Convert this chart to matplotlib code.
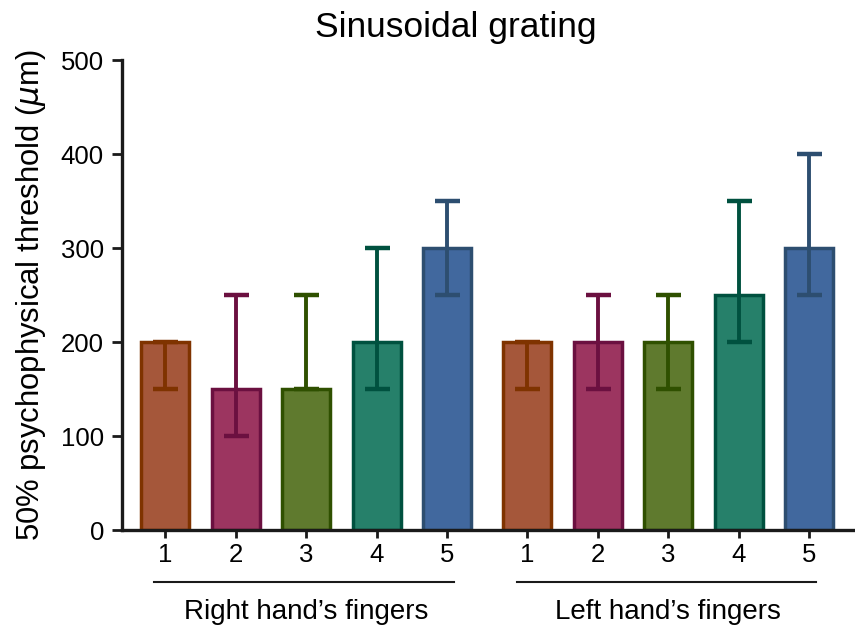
import matplotlib
matplotlib.use("Agg")
import matplotlib.pyplot as plt
import matplotlib.transforms as mtransforms
import numpy as np

plt.rcParams['font.family'] = ['Liberation Sans', 'DejaVu Sans']

# ---- data ----
fingers = ["1", "2", "3", "4", "5"]
groups = ["Right hand\u2019s fingers", "Left hand\u2019s fingers"]
right_vals = [200, 150, 150, 200, 300]
right_low = [150, 100, 150, 150, 250]
right_high = [200, 250, 250, 300, 350]
left_vals = [200, 200, 200, 250, 300]
left_low = [150, 150, 150, 200, 250]
left_high = [200, 250, 250, 350, 400]

face_colors = ["#A5573A", "#9C3560", "#5F7A2E", "#26806A", "#41689E"]
edge_colors = ["#7F3300", "#6B1040", "#2F5000", "#00513F", "#2D4E70"]

fig = plt.figure(figsize=(8.55, 6.32), dpi=100)
ax = fig.add_axes([122 / 855, (632 - 530) / 632, (853 - 122) / 855, (530 - 60) / 632])

group_gap = 1.135
n = len(fingers)
group_data = [(right_vals, right_low, right_high), (left_vals, left_low, left_high)]
all_pos = []
all_labels = []
group_starts = []
for g, (vals, lows, highs) in enumerate(group_data):
    start = g * (n - 1 + group_gap)
    group_starts.append(start)
    pos = start + np.arange(n)
    for i in range(n):
        ax.bar(pos[i], vals[i], width=0.68, color=face_colors[i],
               edgecolor=edge_colors[i], linewidth=2.5, zorder=2)
        yerr = [[vals[i] - lows[i]], [highs[i] - vals[i]]]
        _, caps, bars = ax.errorbar(pos[i], vals[i], yerr=yerr, fmt='none',
                                    ecolor=edge_colors[i], elinewidth=2.8,
                                    capsize=9.0, capthick=3.2, zorder=3)
        for c in caps:
            c.set_solid_capstyle('round')
        for b in bars:
            b.set_capstyle('butt')
    all_pos.extend(pos)
    all_labels.extend(fingers)

ax.set_xlim(-0.61, group_starts[-1] + n - 1 + 0.62)
ax.set_ylim(0, 500)
ax.set_yticks([0, 100, 200, 300, 400, 500])
ax.set_xticks(all_pos)
ax.set_xticklabels(all_labels)

for s in ['top', 'right']:
    ax.spines[s].set_visible(False)
for s in ['left', 'bottom']:
    ax.spines[s].set_linewidth(2.4)
    ax.spines[s].set_color('#1a1a1a')
ax.tick_params(axis='y', length=7, width=2.0, labelsize=18.5, pad=6, color='#1a1a1a')
ax.tick_params(axis='x', length=6, width=2.0, labelsize=18.5, pad=3, color='#1a1a1a')

ax.set_ylabel("50% psychophysical threshold ($\\mu$m)", fontsize=22.3, labelpad=9)

trans = mtransforms.blended_transform_factory(ax.transData, ax.transAxes)
for g, start in enumerate(group_starts):
    ax.plot([start - 0.15, start + n - 1 + 0.1], [-0.111, -0.111], color='#1a1a1a',
            linewidth=1.5, transform=trans, clip_on=False)
    ax.text(start + (n - 1) / 2, -0.175, groups[g], transform=trans, ha='center',
            va='center', fontsize=20)

fig.text(456 / 855, 1 - 28 / 632, "Sinusoidal grating", ha='center', va='center', fontsize=25.5)

fig.savefig("out.png", dpi=100)
